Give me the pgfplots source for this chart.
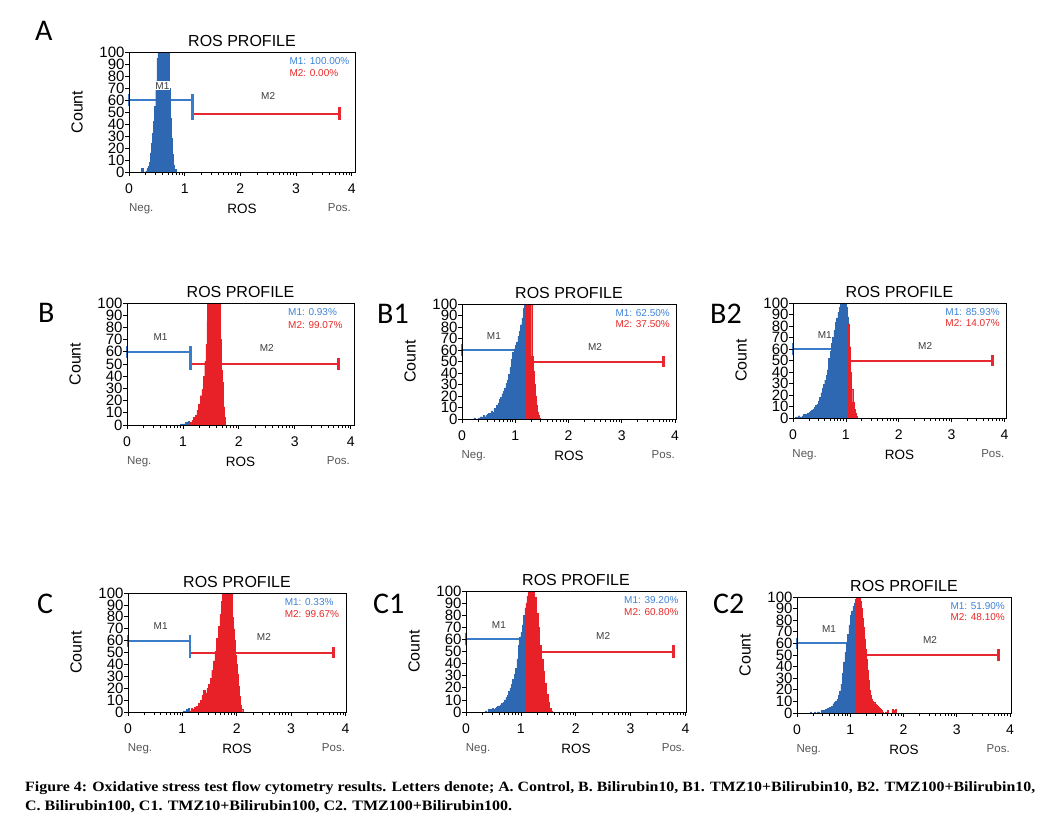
\documentclass[border=0pt]{standalone}
\usepackage{fontspec}
\setmainfont{Liberation Sans}
\newfontfamily\carlito{Carlito}
\newfontfamily\capfont{Liberation Serif}
\usepackage{graphicx}
\usepackage{pgfplots}
\pgfplotsset{compat=1.18}

\definecolor{hblue}{RGB}{47,104,178}
\definecolor{hred}{RGB}{232,32,40}
\definecolor{mblue}{RGB}{58,124,200}
\definecolor{mred}{RGB}{232,40,48}
\definecolor{ablue}{RGB}{60,130,215}
\definecolor{ared}{RGB}{232,40,40}
\definecolor{greytext}{RGB}{85,85,85}
\definecolor{labgrey}{RGB}{60,60,60}

\pgfplotsset{
 ros/.style={
  scale only axis, xmin=0, ymin=0, ymax=100,
  axis on top, clip mode=individual,
  axis line style={line width=0.8pt},
  tick style={line width=0.7pt, black},
  tick align=outside, xtick pos=bottom, ytick pos=left,
  major tick length=4pt, minor tick length=2.5pt,
  xtick={0,1,2,3,4},
  minor xtick={0.301,0.477,0.602,0.699,0.778,0.845,0.903,0.954,
               1.301,1.477,1.602,1.699,1.778,1.845,1.903,1.954,
               2.301,2.477,2.602,2.699,2.778,2.845,2.903,2.954,
               3.301,3.477,3.602,3.699,3.778,3.845,3.903,3.954},
  ytick={0,10,...,100},
  /pgf/number format/assume math mode=true,
  xticklabel style={font=\fontsize{14}{14}\selectfont, anchor=base, yshift=-17pt, inner sep=0pt},
  yticklabel style={font=\fontsize{15}{15}\selectfont, inner sep=0.3pt},
  title={ROS PROFILE},
  title style={font=\fontsize{16}{16}\selectfont, at={(axis description cs:0.5,1)}, anchor=base, yshift=0pt, inner sep=0pt},
  xlabel={ROS},
  xlabel style={font=\fontsize{13.5}{14}\selectfont, at={(axis description cs:0.5,0)}, anchor=base, yshift=-41pt, inner sep=0pt},
  after end axis/.append code={
   \node[anchor=base, inner sep=0pt, text=greytext, font=\fontsize{11.5}{12}\selectfont] at ([yshift=-39pt]axis cs:0.22,0) {Neg.};
   \node[anchor=base, inner sep=0pt, text=greytext, font=\fontsize{11.5}{12}\selectfont] at ([yshift=-39pt]axis cs:3.78,0) {Pos.};
   \node[rotate=90, inner sep=0pt, font=\fontsize{16}{16}\selectfont] at ([xshift=-52pt]axis description cs:0,0.5) {Count};
  },
 },
 hb/.style={const plot, fill=hblue, draw=hblue, line width=0.4pt},
 hr/.style={const plot, fill=hred, draw=hred, line width=0.4pt},
}

% markers: #1 boundary x, #2 M2 y, #3 M2 cap low, #4 M2 cap high
\newcommand\rosmarkers[4]{%
 \draw[mred, line width=2pt] (axis cs:#1,#2) -- (axis cs:3.78,#2);
 \draw[mred, line width=2.6pt] (axis cs:3.78,#3) -- (axis cs:3.78,#4);
 \draw[mblue, line width=2pt] (axis cs:0,60) -- (axis cs:#1,60);
 \draw[mblue, line width=2.6pt] (axis cs:0,55) -- (axis cs:0,65);
 \draw[mblue, line width=2.6pt] (axis cs:#1,#3) -- (axis cs:#1,65);
}
\newcommand\roslabels[2]{%
 \node[font=\fontsize{10}{10}\selectfont, text=labgrey, fill=white, inner sep=0.8pt] at (axis cs:0.6,72) {M1};
 \node[font=\fontsize{10}{10}\selectfont, text=labgrey, inner sep=0.8pt] at (axis cs:2.5,63) {M2};
 \node[anchor=base west, inner sep=0pt, font=\fontsize{10}{10}\selectfont, text=ablue] at (axis cs:2.88,89.5) {M1: #1\%};
 \node[anchor=base west, inner sep=0pt, font=\fontsize{10}{10}\selectfont, text=ared] at (axis cs:2.88,79.5) {M2: #2\%};
}

\begin{document}
\begin{tikzpicture}
\path[use as bounding box] (0pt,0pt) rectangle (1047pt,-817pt);

% panel letters
\tikzset{pl/.style={anchor=base west, inner sep=0pt, font=\carlito\fontsize{30}{30}\selectfont}}
\node[pl] at (35pt,-40pt) {A};
\node[pl] at (38pt,-322pt) {B};
\node[pl] at (377pt,-323pt) {B1};
\node[pl] at (710pt,-323pt) {B2};
\node[pl] at (37pt,-613pt) {C};
\node[pl] at (373pt,-613pt) {C1};
\node[pl] at (713pt,-613pt) {C2};

% ---------- A ----------
\begin{axis}[ros, at={(129pt,-172pt)}, anchor=south west, width=226pt, height=120pt, xmax=4.06]
\rosmarkers{1.14}{48}{43}{54}
\addplot[hb] coordinates {(0.20,0)(0.22,3)(0.26,0)(0.30,1)(0.32,3)(0.34,5)(0.36,8)(0.38,16)(0.40,24)(0.42,32)(0.44,42)(0.46,55)(0.48,76)(0.50,95)(0.52,112)(0.72,70)(0.74,45)(0.76,28)(0.78,15)(0.80,6)(0.82,2)(0.84,0)} \closedcycle;
\roslabels{100.00}{0.00}
\end{axis}

% ---------- B ----------
\begin{axis}[ros, at={(127pt,-425pt)}, anchor=south west, width=227pt, height=122pt, xmax=4.06]
\rosmarkers{1.14}{50}{45}{55}
\addplot[hb] coordinates {(0.96,1)(0.99,0)(1.01,1)(1.04,2)(1.07,1)(1.09,3)(1.11,2)(1.13,0)} \closedcycle;
\addplot[hr] coordinates {(1.13,2)(1.16,4)(1.19,6)(1.22,8)(1.25,12)(1.28,17)(1.31,24)(1.34,29)(1.37,40)(1.39,52)(1.41,66)(1.43,85)(1.44,112)(1.66,70)(1.68,45)(1.70,35)(1.72,15)(1.74,6)(1.76,0)} \closedcycle;
\roslabels{0.93}{99.07}
\end{axis}

% ---------- B1 ----------
\begin{axis}[ros, at={(462pt,-419pt)}, anchor=south west, width=214pt, height=115pt, xmax=4.02]
\rosmarkers{1.21}{50}{45}{55}
\addplot[hb] coordinates {(0.20,0)(0.225,1)(0.25,0)(0.30,1)(0.325,0)(0.35,2)(0.375,1)(0.40,3)(0.425,2)(0.45,3)(0.475,4)(0.50,5)(0.525,4)(0.55,7)(0.575,6)(0.60,9)(0.625,8)(0.65,12)(0.675,14)(0.70,17)(0.725,19)(0.75,22)(0.775,24)(0.80,27)(0.825,31)(0.85,34)(0.875,39)(0.90,45)(0.925,52)(0.95,58)(0.975,61)(1.00,64)(1.025,67)(1.05,72)(1.075,76)(1.10,82)(1.125,88)(1.15,96)(1.175,112)(1.21,0)} \closedcycle;
\addplot[hr] coordinates {(1.21,112)(1.31,55)(1.33,42)(1.35,30)(1.37,20)(1.39,12)(1.41,6)(1.43,3)(1.45,1)(1.47,0)} \closedcycle;
\roslabels{62.50}{37.50}
\end{axis}

% ---------- B2 ----------
\begin{axis}[ros, at={(793pt,-418pt)}, anchor=south west, width=213pt, height=115pt, xmax=4.03]
\rosmarkers{1.05}{50}{45}{55}
\addplot[hb] coordinates {(0.05,1)(0.075,0)(0.10,2)(0.125,1)(0.15,1)(0.175,2)(0.20,3)(0.225,2)(0.25,3)(0.275,4)(0.30,5)(0.325,6)(0.35,7)(0.375,8)(0.40,9)(0.425,11)(0.45,12)(0.475,15)(0.50,18)(0.525,22)(0.55,26)(0.575,29)(0.60,33)(0.625,37)(0.65,42)(0.675,52)(0.70,58)(0.725,65)(0.75,70)(0.775,76)(0.80,83)(0.825,87)(0.85,92)(0.875,96)(0.90,112)(0.925,104)(0.95,112)(0.975,100)(1.00,96)(1.025,88)(1.05,0)} \closedcycle;
\addplot[hr] coordinates {(1.05,82)(1.07,62)(1.09,40)(1.11,25)(1.13,14)(1.15,8)(1.17,4)(1.19,2)(1.21,0)} \closedcycle;
\roslabels{85.93}{14.07}
\end{axis}

% ---------- C ----------
\begin{axis}[ros, at={(128pt,-712pt)}, anchor=south west, width=218pt, height=119pt, xmax=4.01]
\rosmarkers{1.14}{50}{45}{55}
\addplot[hb] coordinates {(1.02,1)(1.05,0)(1.07,2)(1.09,1)(1.11,3)(1.13,0)} \closedcycle;
\addplot[hr] coordinates {(1.13,1)(1.16,3)(1.19,2)(1.22,4)(1.25,5)(1.28,4)(1.30,7)(1.33,10)(1.36,14)(1.39,18)(1.42,16)(1.45,20)(1.48,23)(1.51,28)(1.54,35)(1.57,43)(1.60,51)(1.63,62)(1.66,72)(1.69,82)(1.72,93)(1.74,112)(1.91,80)(1.93,70)(1.95,60)(1.97,48)(1.99,40)(2.01,32)(2.03,22)(2.05,13)(2.07,6)(2.09,2)(2.11,0)} \closedcycle;
\roslabels{0.33}{99.67}
\end{axis}

% ---------- C1 ----------
\begin{axis}[ros, at={(466pt,-712pt)}, anchor=south west, width=220pt, height=121pt, xmax=4.01]
\rosmarkers{1.09}{50}{45}{55}
\addplot[hb] coordinates {(0.35,1)(0.375,0)(0.40,2)(0.425,1)(0.45,2)(0.475,3)(0.50,2)(0.525,3)(0.55,4)(0.575,5)(0.60,5)(0.625,6)(0.65,7)(0.675,8)(0.70,10)(0.725,12)(0.75,14)(0.775,17)(0.80,20)(0.825,23)(0.85,27)(0.875,31)(0.90,36)(0.925,44)(0.95,55)(0.975,62)(1.00,66)(1.025,72)(1.05,80)(1.075,86)(1.09,0)} \closedcycle;
\addplot[hr] coordinates {(1.09,90)(1.11,96)(1.13,112)(1.17,104)(1.19,84)(1.21,112)(1.23,100)(1.25,95)(1.28,82)(1.31,70)(1.34,55)(1.37,44)(1.40,34)(1.43,24)(1.46,15)(1.49,8)(1.52,3)(1.55,1)(1.58,0)} \closedcycle;
\roslabels{39.20}{60.80}
\end{axis}

% ---------- C2 ----------
\begin{axis}[ros, at={(797pt,-713pt)}, anchor=south west, width=214pt, height=116pt, xmax=4.02]
\rosmarkers{1.12}{50}{45}{55}
\addplot[hb] coordinates {(0.25,1)(0.275,0)(0.325,1)(0.35,0)(0.375,1)(0.40,1)(0.425,0)(0.45,2)(0.475,1)(0.50,2)(0.525,3)(0.55,2)(0.575,4)(0.60,5)(0.625,4)(0.65,6)(0.675,8)(0.70,9)(0.725,10)(0.75,12)(0.775,15)(0.80,19)(0.825,25)(0.85,34)(0.875,44)(0.90,52)(0.925,60)(0.95,68)(0.975,76)(1.00,84)(1.025,88)(1.05,92)(1.075,95)(1.10,98)(1.12,0)} \closedcycle;
\addplot[hr] coordinates {(1.12,112)(1.16,104)(1.18,96)(1.20,90)(1.22,82)(1.24,74)(1.26,64)(1.28,55)(1.30,46)(1.32,37)(1.34,28)(1.36,20)(1.38,15)(1.40,12)(1.42,10)(1.44,9)(1.46,8)(1.48,7)(1.50,6)(1.52,5)(1.54,4)(1.56,3)(1.58,2)(1.60,1)(1.62,0)(1.66,1)(1.70,2)(1.72,0)(1.78,3)(1.80,1)(1.82,2)(1.84,3)(1.86,0)} \closedcycle;
\roslabels{51.90}{48.10}
\end{axis}

% caption
\node[anchor=base west, inner sep=0pt] at (25pt,-791pt) {\resizebox{1010pt}{10pt}{\capfont\bfseries Figure 4: Oxidative stress test flow cytometry results. Letters denote; A. Control, B. Bilirubin10, B1. TMZ10+Bilirubin10, B2. TMZ100+Bilirubin10,}};
\node[anchor=base west, inner sep=0pt] at (25pt,-810pt) {\resizebox{487pt}{10pt}{\capfont\bfseries C. Bilirubin100, C1. TMZ10+Bilirubin100, C2. TMZ100+Bilirubin100.}};
\end{tikzpicture}
\end{document}
